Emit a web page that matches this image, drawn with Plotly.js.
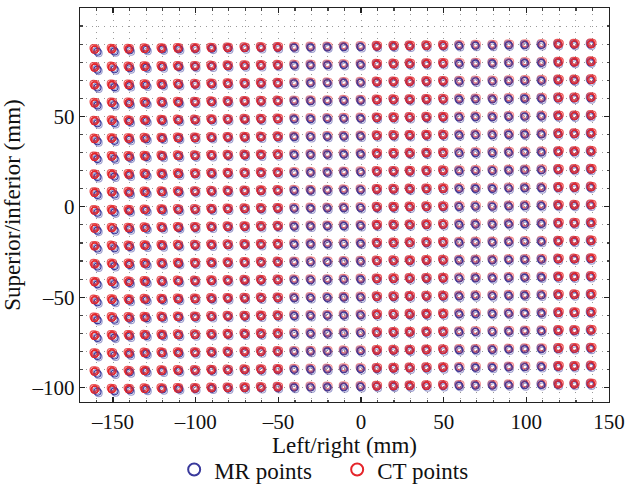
<!DOCTYPE html>
<html>
<head>
<meta charset="utf-8">
<script src="https://cdn.plot.ly/plotly-3.0.1.min.js"></script>
<style>html,body{margin:0;padding:0;background:#fff;}#chart{width:629px;height:488px;}</style>
</head>
<body>
<div id="chart"></div>
<script>
// Nominal phantom grid (mm)
const colX = [-160,-150,-140,-130,-120,-110,-100,-90,-80,-70,-60,-50,-40,-30,-20,-10,0,10,20,30,40,50,60,70,80,90,100,110,120,130,140];
const rowY = [90,80,70,60,50,40,30,20,10,0,-10,-20,-30,-40,-50,-60,-70,-80,-90,-100];
const xTicks = [-150,-100,-50,0,50,100,150];
const yTicks = [-100,-50,0,50];

// Estimated per-column offsets (mm)
const ctColDx = [-1.2,-0.8,-0.6,-0.9,-0.7,-0.8,-0.5,-0.6,-0.7,-0.5,-0.6,-0.4,-0.5,-0.6,-0.4,-0.5,-0.3,-0.5,-0.4,-0.6,-0.5,-0.4,-0.6,-0.7,-0.5,-0.6,-0.8,-0.7,-0.6,-0.9,-0.8];
const ctColDy = [-2.1,-1.9,-1.9,-1.7,-1.6,-1.5,-1.5,-1.3,-1.2,-1.1,-1.0,-0.9,-0.8,-0.7,-0.7,-0.5,-0.4,-0.3,-0.2,-0.1,0.0,0.1,0.2,0.3,0.3,0.5,0.6,0.7,0.8,0.8,1.0];
const mrColDx = [0.6,0.9,0.2,0.3,0.1,0.0,-0.2,-0.1,-0.3,-0.2,-0.4,-0.3,-0.4,-0.5,-0.3,-0.4,-0.2,-0.4,-0.3,-0.5,-0.4,-0.3,-0.7,-0.8,-0.6,-0.7,-1.1,-1.0,-0.9,-1.1,-1.2];
const mrColDy = [-3.2,-3.0,-2.4,-2.1,-1.9,-1.8,-1.7,-1.5,-1.4,-1.3,-1.2,-1.1,-1.0,-0.9,-0.8,-0.7,-0.6,-0.5,-0.4,-0.3,-0.2,-0.1,0.0,0.1,0.1,0.3,0.4,0.5,0.6,0.6,0.8];
// Estimated per-row offsets (mm)
const rowDy = [-1.0,-0.9,-0.8,-0.7,-0.6,-0.5,-0.4,-0.3,-0.2,-0.1,0.0,0.1,0.2,0.3,0.4,0.5,0.6,0.7,0.8,0.9];
// Small repeat-scan offsets (mm), three acquisitions per series
const ctRepDx = [0.0,0.8,-0.6];
const ctRepDy = [0.0,0.7,0.9];
const mrRepDx = [0.0,0.7,-0.5];
const mrRepDy = [0.0,-0.8,0.6];
// Columns where the CT rings sit on top
const ctTopCols = [-160,-150,-140,-130,-120,-110,-100,-90,-80,-70,-60,-50,10,20,30,40,50,120,130,140];

const blue = '#3a3a9c', red = '#e5252a';
const blueA = 'rgba(58,58,156,0.5)', redA = 'rgba(229,37,42,0.5)';

function build(colDx, colDy, repDx, repDy, r, onlyCols) {
  const xs = [], ys = [];
  colX.forEach((cx, i) => {
    if (onlyCols && onlyCols.indexOf(cx) < 0) return;
    rowY.forEach((ry, j) => {
      xs.push(cx + colDx[i] + repDx[r]);
      ys.push(ry + colDy[i] + rowDy[j] + repDy[r]);
    });
  });
  return {x: xs, y: ys};
}

const traces = [];
function addSeries(name, colDx, colDy, repDx, repDy, col, colA, onlyCols, legend) {
  for (let r = 0; r < repDx.length; r++) {
    const d = build(colDx, colDy, repDx, repDy, r, onlyCols);
    traces.push({
      type: 'scatter', mode: 'markers', x: d.x, y: d.y, name: name,
      legendrank: name === 'MR points' ? 1 : 2,
      showlegend: legend && r === 0,
      marker: {symbol: 'circle-open', size: 7, color: r === 0 ? col : colA, line: {width: 1.1}},
      hoverinfo: 'x+y'
    });
  }
}
addSeries('CT points', ctColDx, ctColDy, ctRepDx, ctRepDy, red, redA, null, true);
addSeries('MR points', mrColDx, mrColDy, mrRepDx, mrRepDy, blue, blueA, null, true);
addSeries('CT points', ctColDx, ctColDy, ctRepDx, ctRepDy, red, redA, ctTopCols, false);

const fontFam = 'Liberation Serif, DejaVu Serif, serif';
const axCommon = {
  showline: true, linecolor: '#222', linewidth: 1.3, mirror: 'allticks',
  ticks: 'inside', ticklen: 5, tickcolor: '#222', tickwidth: 1.2,
  showgrid: true, gridcolor: '#9a9a9a', griddash: '1px,5px', gridwidth: 1,
  zeroline: false, automargin: false, tickfont: {family: fontFam, size: 21, color: '#111'},
  minor: {dtick: 10, ticks: 'inside', ticklen: 2.5, tickcolor: '#444', showgrid: true, gridcolor: '#9a9a9a', griddash: '1px,5px', gridwidth: 1}
};
const layout = {
  width: 629, height: 488,
  margin: {l: 80, r: 20, t: 8, b: 86, autoexpand: false},
  paper_bgcolor: '#fff', plot_bgcolor: '#fff',
  font: {family: fontFam, color: '#111'},
  xaxis: Object.assign({}, axCommon, {range: [-170, 150], tickmode: 'array', tickvals: xTicks, ticktext: xTicks.map(v => v < 0 ? '\u2013' + Math.abs(v) : String(v)),
    title: {text: 'Left/right (mm)', font: {family: fontFam, size: 23}, standoff: 2}}),
  yaxis: Object.assign({}, axCommon, {range: [-108, 110], tickmode: 'array', tickvals: yTicks, ticktext: yTicks.map(v => v < 0 ? '\u2013' + Math.abs(v) : String(v)),
    title: {text: 'Superior/inferior (mm)', font: {family: fontFam, size: 23}, standoff: 4}}),
  showlegend: true,
  legend: {orientation: 'h', x: 0.178, xanchor: 'left', y: -0.117, yanchor: 'top',
    font: {family: fontFam, size: 23}, itemsizing: 'constant', traceorder: 'normal', itemwidth: 30,
    entrywidth: 118, entrywidthmode: 'pixels'}
};
Plotly.newPlot('chart', traces, layout, {displayModeBar: false, staticPlot: true});
</script>
</body>
</html>
